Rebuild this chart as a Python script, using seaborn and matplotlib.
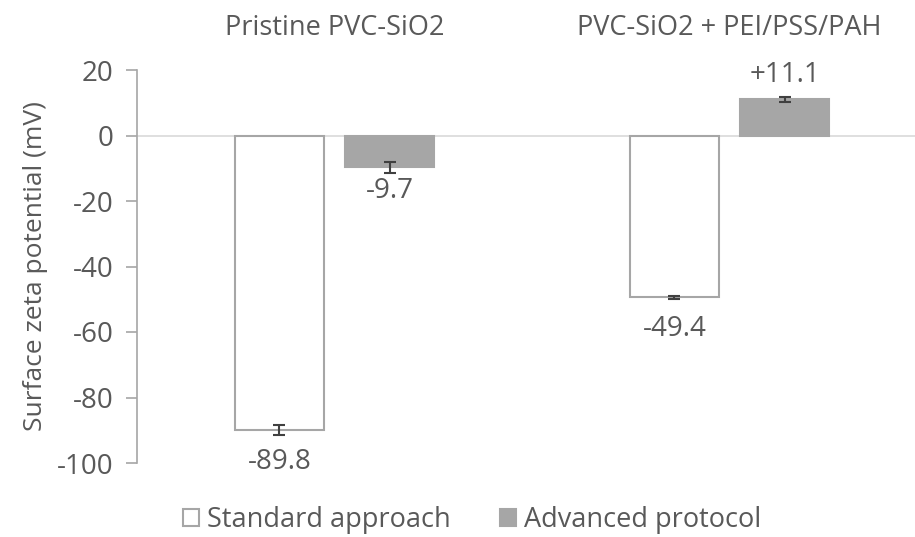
import pandas as pd
import seaborn as sns
import matplotlib.pyplot as plt

# datos
grupos = ["Pristine PVC-SiO2", "PVC-SiO2 + PEI/PSS/PAH"]
series = ["Standard approach", "Advanced protocol"]
standard = [-89.8, -49.4]
advanced = [-9.7, 11.1]
err_standard = [1.5, 0.4]
err_advanced = [1.7, 0.8]

df = pd.DataFrame({
    "grupo": grupos * 2,
    "serie": [series[0]] * 2 + [series[1]] * 2,
    "valor": standard + advanced,
})
errores = {series[0]: err_standard, series[1]: err_advanced}

sns.set_theme(style="white")
plt.rcParams['font.family'] = ['Open Sans', 'DejaVu Sans']
plt.rcParams['axes.unicode_minus'] = False
gris_texto = '#595959'

fig = plt.figure(figsize=(9.15, 5.37), dpi=100)
ax = fig.add_axes([137 / 915, 1 - 463 / 537, 790 / 915, 393 / 537])

sns.barplot(
    data=df, x="grupo", y="valor", hue="serie",
    order=grupos, hue_order=series,
    palette={series[0]: "white", series[1]: "#a6a6a6"},
    edgecolor="#a6a6a6", linewidth=1.5,
    width=0.557, gap=0.19, errorbar=None, ax=ax,
)

# barras de error y etiquetas de valor
for cont, serie in zip(ax.containers, series):
    xs = [p.get_x() + p.get_width() / 2 for p in cont.patches]
    ys = [p.get_height() for p in cont.patches]
    ax.errorbar(xs, ys, yerr=errores[serie], fmt='none', ecolor='#404040',
                elinewidth=1.5, capsize=4, capthick=1.5, zorder=5)
    pad = 13 if serie == series[0] else 7
    ax.bar_label(cont, labels=[f"{v:+.1f}" if v > 0 else f"{v:.1f}" for v in ys],
                 padding=pad, fontsize=20, color=gris_texto)

ax.axhline(0, color='#d9d9d9', linewidth=1.2, zorder=0)
ax.set_ylim(-100, 20)
ax.set_xlim(-0.5, 1.5)
ax.set_yticks(range(-100, 21, 20))
ax.tick_params(axis='y', direction='out', length=8, width=1.2, color='#a6a6a6',
               labelsize=20, labelcolor=gris_texto, left=True, pad=9)

ax.xaxis.tick_top()
ax.tick_params(axis='x', length=0, labelsize=19.5, labelcolor=gris_texto, pad=20)

for lado in ["top", "right", "bottom"]:
    ax.spines[lado].set_visible(False)
ax.spines["left"].set_color('#a6a6a6')
ax.spines["left"].set_linewidth(1.2)

ax.set_xlabel("")
ax.set_ylabel("Surface zeta potential (mV)", fontsize=19, color=gris_texto, labelpad=6)

handles, labels = ax.get_legend_handles_labels()
ax.legend(handles, labels, loc="center", bbox_to_anchor=(472 / 915, 1 - 520 / 537),
          bbox_transform=fig.transFigure,
          ncol=2, frameon=False, fontsize=19.5, labelcolor=gris_texto,
          handlelength=0.6, handleheight=0.6, handletextpad=0.3, columnspacing=1.8)

fig.savefig("out.png", dpi=100)
